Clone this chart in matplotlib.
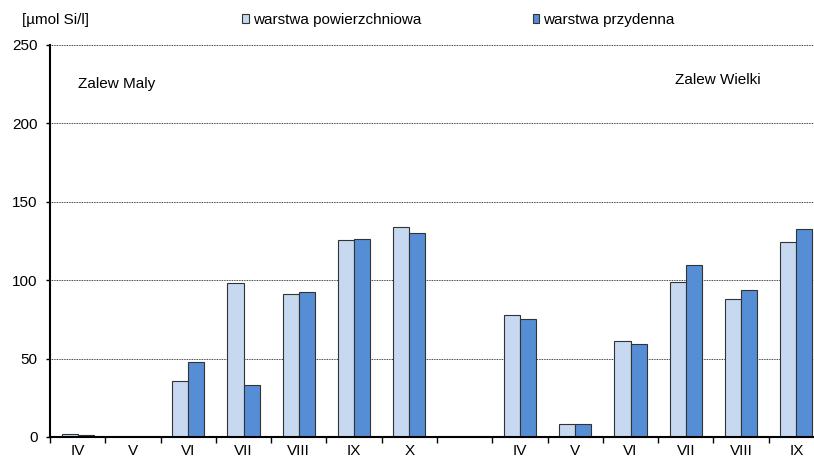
import numpy as np
import matplotlib
matplotlib.use("Agg")
from matplotlib import pyplot as plt

plt.rcParams['font.family'] = ['Liberation Sans', 'DejaVu Sans']

months = ['IV', 'V', 'VI', 'VII', 'VIII', 'IX', 'X', '', 'IV', 'V', 'VI', 'VII', 'VIII', 'IX']
surface = [2, 0, 36, 98, 91, 125.5, 134, 0, 78, 8, 61, 99, 88, 124.5]
bottom = [1, 0, 48, 33, 92.5, 126, 130, 0, 75, 8, 59, 110, 94, 132.5]
series_names = ['warstwa powierzchniowa', 'warstwa przydenna']
light = '#C6D9F1'
dark = '#558ED5'

fig = plt.figure(figsize=(8.14, 4.62), dpi=100)
ax = fig.add_axes([50/814, 1 - 437/462, 774/814, 392/462])
ax.set_axisbelow(True)

x = np.arange(len(months))
w = 0.29
ax.bar(x - w/2, surface, w, color=light, edgecolor='#333333', linewidth=0.8, label=series_names[0])
ax.bar(x + w/2, bottom, w, color=dark, edgecolor='#333333', linewidth=0.8, label=series_names[1])

ax.set_xlim(-0.5, len(months) - 0.5)
ax.set_ylim(0, 250)
ax.set_yticks(range(0, 251, 50))
ax.set_xticks(x)
ax.set_xticklabels(months, fontsize=11)
ax.set_xticks(np.arange(-0.5, len(months), 1), minor=True)
ax.tick_params(axis='x', which='major', length=0, pad=5)
ax.tick_params(axis='x', which='minor', length=4, width=1)
ax.tick_params(axis='y', length=3, width=1, labelsize=11, pad=6)
ax.yaxis.grid(True, linestyle=(0, (1, 1)), color='black', linewidth=0.6)
ax.spines['top'].set_visible(False)
ax.spines['right'].set_visible(False)
ax.spines['left'].set_linewidth(1.5)
ax.spines['bottom'].set_linewidth(1.5)

fig.text(22/814, 1 - 20/462, '[µmol Si/l]', fontsize=11, va='center', ha='left')
fig.text(78/814, 1 - 84/462, 'Zalew Maly', fontsize=11, va='center', ha='left')
fig.text(675/814, 1 - 80/462, 'Zalew Wielki', fontsize=11, va='center', ha='left')

fig.legend(loc='center left', bbox_to_anchor=(242/814, 1 - 20/462), ncol=2, frameon=False,
           fontsize=11, handlelength=0.45, handleheight=0.45, handletextpad=0.25,
           columnspacing=7.3, borderaxespad=0, borderpad=0)

fig.savefig('out.png', dpi=100)
